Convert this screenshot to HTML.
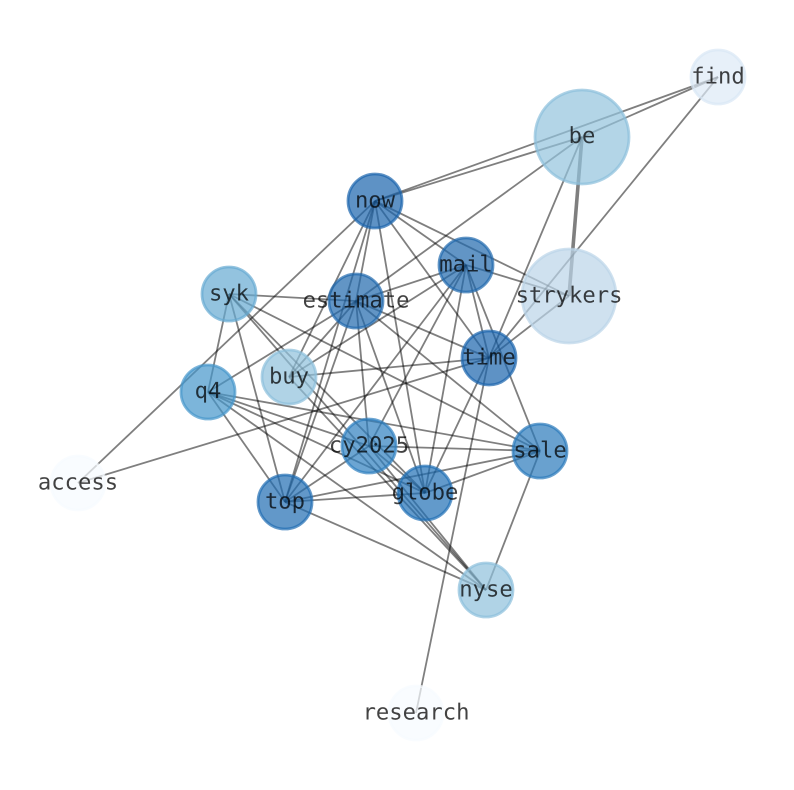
<!DOCTYPE html>
<html>
<head>
<meta charset="utf-8">
<style>
html,body{margin:0;padding:0;background:#fff;width:794px;height:790px;overflow:hidden}
svg{display:block}
text{font-family:"DejaVu Sans Mono","Liberation Mono",monospace;font-size:22.2px;text-anchor:middle;fill:#000;fill-opacity:.74;text-rendering:geometricPrecision}
line{stroke:#000;stroke-opacity:.5;stroke-width:1.8}
circle{stroke-width:2.8;fill-opacity:.7;stroke-opacity:.7}
</style>
</head>
<body>
<svg width="794" height="790" viewBox="0 0 794 790" xmlns="http://www.w3.org/2000/svg">
<g>
<line x1="582" y1="137" x2="718" y2="77"/>
<line x1="375" y1="201" x2="718" y2="77"/>
<line x1="375" y1="201" x2="582" y2="137"/>
<line x1="582" y1="137" x2="569" y2="296" style="stroke-width:3.6"/>
<line x1="582" y1="137" x2="356" y2="301"/>
<line x1="582" y1="137" x2="489" y2="358"/>
<line x1="718" y1="77" x2="489" y2="358"/>
<line x1="375" y1="201" x2="466" y2="265"/>
<line x1="375" y1="201" x2="569" y2="296"/>
<line x1="375" y1="201" x2="356" y2="301"/>
<line x1="375" y1="201" x2="289" y2="377"/>
<line x1="375" y1="201" x2="78" y2="483"/>
<line x1="375" y1="201" x2="285" y2="502"/>
<line x1="375" y1="201" x2="425" y2="493"/>
<line x1="375" y1="201" x2="489" y2="358"/>
<line x1="466" y1="265" x2="569" y2="296"/>
<line x1="466" y1="265" x2="356" y2="301"/>
<line x1="466" y1="265" x2="289" y2="377"/>
<line x1="466" y1="265" x2="489" y2="358"/>
<line x1="466" y1="265" x2="540" y2="451"/>
<line x1="466" y1="265" x2="425" y2="493"/>
<line x1="466" y1="265" x2="369" y2="446"/>
<line x1="466" y1="265" x2="285" y2="502"/>
<line x1="569" y1="296" x2="489" y2="358"/>
<line x1="229" y1="294" x2="356" y2="301"/>
<line x1="229" y1="294" x2="208" y2="392"/>
<line x1="229" y1="294" x2="285" y2="502"/>
<line x1="229" y1="294" x2="540" y2="451"/>
<line x1="229" y1="294" x2="425" y2="493"/>
<line x1="229" y1="294" x2="486" y2="590"/>
<line x1="356" y1="301" x2="489" y2="358"/>
<line x1="356" y1="301" x2="208" y2="392"/>
<line x1="356" y1="301" x2="289" y2="377"/>
<line x1="356" y1="301" x2="285" y2="502"/>
<line x1="356" y1="301" x2="369" y2="446"/>
<line x1="356" y1="301" x2="425" y2="493"/>
<line x1="356" y1="301" x2="540" y2="451"/>
<line x1="489" y1="358" x2="289" y2="377"/>
<line x1="489" y1="358" x2="78" y2="483"/>
<line x1="489" y1="358" x2="416" y2="713"/>
<line x1="489" y1="358" x2="425" y2="493"/>
<line x1="208" y1="392" x2="285" y2="502"/>
<line x1="208" y1="392" x2="369" y2="446"/>
<line x1="208" y1="392" x2="540" y2="451"/>
<line x1="208" y1="392" x2="425" y2="493"/>
<line x1="208" y1="392" x2="486" y2="590"/>
<line x1="289" y1="377" x2="486" y2="590"/>
<line x1="369" y1="446" x2="540" y2="451"/>
<line x1="369" y1="446" x2="285" y2="502"/>
<line x1="369" y1="446" x2="425" y2="493"/>
<line x1="369" y1="446" x2="486" y2="590"/>
<line x1="540" y1="451" x2="425" y2="493"/>
<line x1="540" y1="451" x2="285" y2="502"/>
<line x1="540" y1="451" x2="486" y2="590"/>
<line x1="285" y1="502" x2="425" y2="493"/>
<line x1="285" y1="502" x2="486" y2="590"/>
</g>
<g>
<circle cx="582" cy="137" r="47" fill="#93c3dd" stroke="#8bbfdb"/>
<circle cx="718" cy="77" r="27" fill="#dde9f6" stroke="#d8e7f5"/>
<circle cx="375" cy="201" r="27" fill="#1a64ac" stroke="#1a64ac"/>
<circle cx="466" cy="265" r="27" fill="#1f68ad" stroke="#1f68ad"/>
<circle cx="569" cy="296" r="47" fill="#bad4e8" stroke="#bad4e8"/>
<circle cx="229" cy="294" r="27" fill="#65a9d1" stroke="#65a9d1"/>
<circle cx="356" cy="301" r="27" fill="#1f68ad" stroke="#1f68ad"/>
<circle cx="489" cy="358" r="27" fill="#1a64ac" stroke="#1a64ac"/>
<circle cx="289" cy="377" r="27" fill="#8fc1dc" stroke="#8bbfdb"/>
<circle cx="208" cy="392" r="27" fill="#4595ca" stroke="#4595ca"/>
<circle cx="369" cy="446" r="27" fill="#2d7fbf" stroke="#2d7fbf"/>
<circle cx="540" cy="451" r="27" fill="#2a79ba" stroke="#2a79ba"/>
<circle cx="78" cy="483" r="27" fill="#f7fbff" stroke="#f7fbff"/>
<circle cx="285" cy="502" r="27" fill="#1f6cb2" stroke="#1f6cb2"/>
<circle cx="425" cy="493" r="27" fill="#1f6fb5" stroke="#1f6fb5"/>
<circle cx="486" cy="590" r="27" fill="#8fc1dc" stroke="#8bbfdb"/>
<circle cx="416" cy="713" r="27" fill="#f7fbff" stroke="#f7fbff"/>
</g>
<g>
<text x="582" y="143">be</text>
<text x="718" y="83.5">find</text>
<text x="375" y="207.5">now</text>
<text x="466" y="271.5">mail</text>
<text x="569" y="302.5">strykers</text>
<text x="229" y="300.5">syk</text>
<text x="356" y="307.5">estimate</text>
<text x="489" y="364.5">time</text>
<text x="289" y="383.5">buy</text>
<text x="208" y="398">q4</text>
<text x="369" y="452.5">cy2025</text>
<text x="540" y="457.5">sale</text>
<text x="78" y="489.5">access</text>
<text x="285" y="508.5">top</text>
<text x="425" y="499.5">globe</text>
<text x="486" y="596.5">nyse</text>
<text x="416" y="719.5">research</text>
</g>
</svg>
</body>
</html>
